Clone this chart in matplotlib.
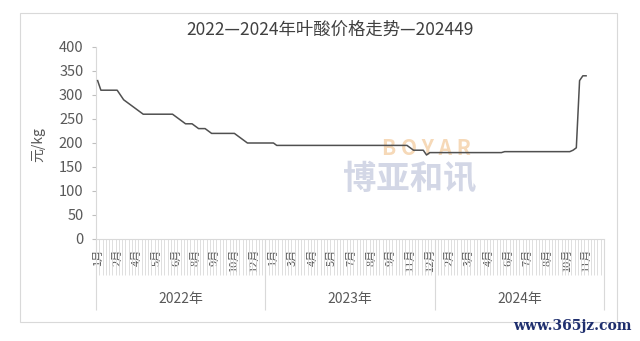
import numpy as np
import matplotlib
matplotlib.use('Agg')
from matplotlib import pyplot as plt
from matplotlib import transforms
from matplotlib.patches import Rectangle

plt.rcParams['font.family'] = ['Noto Sans CJK SC', 'DejaVu Sans']

# weekly price, yuan/kg (2022 w1 .. 2024 w49)
price_2022 = [330, 310, 310, 310, 310, 310, 310, 300, 290, 285, 280, 275, 270, 265,
              260, 260, 260, 260, 260, 260, 260, 260, 260, 260, 255, 250, 245,
              240, 240, 240, 235, 230, 230, 230, 225,
              220, 220, 220, 220, 220, 220, 220, 220, 215, 210, 205,
              200, 200, 200, 200, 200, 200]
price_2023 = [200, 200, 200,
              195, 195, 195, 195, 195, 195, 195, 195, 195, 195, 195, 195, 195, 195, 195,
              195, 195, 195, 195, 195, 195, 195, 195, 195, 195, 195, 195, 195, 195, 195,
              195, 195, 195, 195, 195, 195, 195, 195, 195, 195, 195,
              190, 185, 185, 185, 185, 175]
price_2024 = [180, 180, 180, 180, 180, 180, 180, 180, 180, 180, 180, 180, 180, 180,
              180, 180, 180, 180, 180, 180, 180, 180, 180,
              182, 182, 182, 182, 182, 182, 182, 182, 182, 182, 182, 182, 182, 182,
              182, 182, 182, 182, 182, 182, 182,
              185, 190, 330, 340, 340]

years = ['2022年', '2023年', '2024年']
weeks_per_year = [52, 52, 52]
month_labels = ['1月', '2月', '4月', '5月', '6月', '8月', '9月', '10月', '12月',
                '1月', '3月', '4月', '5月', '7月', '8月', '9月', '11月', '12月',
                '2月', '3月', '4月', '6月', '7月', '8月', '10月', '11月']
label_step = 6

price = price_2022 + price_2023 + price_2024
n_cat = sum(weeks_per_year)

fig = plt.figure(figsize=(6.4, 3.41), dpi=100)
ax = fig.add_axes([96/640, 1 - 239/341, 508/640, 192/341])

grey_txt = '#595959'
grey_ln = '#d9d9d9'

# watermark text
ax.text(0.65, 0.47, 'B O Y A R', transform=ax.transAxes, ha='center', va='center',
        fontsize=15, color='#f6d9b8', fontweight='bold', zorder=0)
ax.text(0.618, 0.31, '博亚和讯', transform=ax.transAxes, ha='center', va='center',
        fontsize=24, color='#d3d7e6', fontweight='bold', zorder=0)

ax.plot(np.arange(len(price)), price, color='#505050', lw=1.1, solid_joinstyle='round', zorder=3)

ax.set_xlim(-0.5, n_cat - 0.5)
ax.set_ylim(0, 400)
ax.set_yticks(np.arange(0, 401, 50))
ax.tick_params(axis='y', length=3, width=0.8, color='#bfbfbf', labelsize=10.5,
               labelcolor=grey_txt, pad=6)

ax.set_xticks(np.arange(0, n_cat, label_step)[:len(month_labels)])
ax.set_xticklabels(month_labels, rotation=90)
ax.set_xticks(np.arange(-0.5, n_cat, 1), minor=True)
ax.tick_params(axis='x', which='major', length=0, labelsize=8, labelcolor=grey_txt, pad=7)
ax.tick_params(axis='x', which='minor', length=26, width=0.6, color=grey_ln)

for s in ['top', 'right']:
    ax.spines[s].set_visible(False)
ax.spines['left'].set_color(grey_ln)
ax.spines['bottom'].set_color(grey_ln)

# year groups
trans = transforms.blended_transform_factory(ax.transData, ax.transAxes)
bounds = np.concatenate([[0], np.cumsum(weeks_per_year)]) - 0.5
ax.vlines(bounds, -0.37, 0, transform=trans, color=grey_ln, lw=0.8, clip_on=False)
for i, y in enumerate(years):
    ax.text((bounds[i] + bounds[i + 1]) / 2, -0.31, y, transform=trans,
            ha='center', va='center', fontsize=10, color=grey_txt)

ax.set_ylabel('元/kg', fontsize=10, color=grey_txt)
ax.yaxis.set_label_coords(-0.10, 0.49)

fig.text(330/640, 1 - 30/341, '2022—2024年叶酸价格走势—202449', ha='center', va='center',
         fontsize=12.5, color='#404040')

fig.patches.append(Rectangle((20/640, 1 - 322/341), 597/640, 309/341, transform=fig.transFigure,
                             fill=False, edgecolor=grey_ln, lw=0.8))
fig.text(632/640, 1 - 326/341, 'www.365jz.com', ha='right', va='center', fontsize=10,
         family='DejaVu Serif', fontweight='bold', color='#1f2f6e')

plt.savefig('out.png', dpi=100)
